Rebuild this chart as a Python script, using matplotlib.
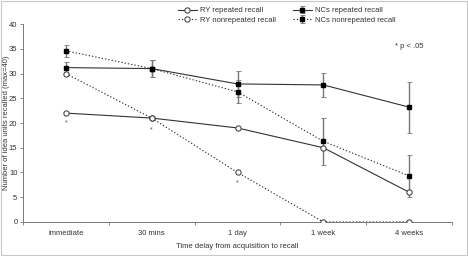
import matplotlib
matplotlib.use("Agg")
import matplotlib.pyplot as plt
from matplotlib.patches import Rectangle

plt.rcParams['font.family'] = ['Liberation Sans', 'DejaVu Sans']

delays = ['immediate', '30 mins', '1 day', '1 week', '4 weeks']
ry_rep = [22, 21, 19, 15, 6]
ry_nonrep = [30, 21, 10, 0, 0]
nc_rep = [31.2, 31.0, 27.9, 27.7, 23.2]
nc_rep_err = [1.2, 1.75, 2.7, 2.4, 5.15]
nc_nonrep = [34.6, 31.0, 26.3, 16.3, 9.3]
nc_nonrep_err = [1.2, 1.75, 2.3, 4.7, 4.3]
sig_y = [20.0, 18.6, 7.9]  # asterisk positions for first three delays

x = [i + 0.5 for i in range(len(delays))]
col = '#333333'
dots = (0, (1.2, 1.8))

fig = plt.figure(figsize=(4.68, 2.56), dpi=100)
fig.patches.append(Rectangle((0.002, 0.004), 0.996, 0.992, transform=fig.transFigure,
                             fill=False, edgecolor='#c8c8c8', linewidth=0.8))
ax = fig.add_axes([0.049, 0.133, 0.917, 0.773])

nr = ax.errorbar(x, nc_rep, yerr=nc_rep_err, color=col, ecolor='#777777', lw=0.8,
                 elinewidth=1.0, capsize=1.8, capthick=0.6, marker='s', ms=3.5,
                 mfc='black', mec='black', zorder=3)
nn = ax.errorbar(x, nc_nonrep, yerr=nc_nonrep_err, color=col, ecolor='#777777', lw=0.8,
                 ls=dots, elinewidth=1.0, capsize=1.8, capthick=0.6, marker='s',
                 ms=3.5, mfc='black', mec='black', zorder=3)
rr, = ax.plot(x, ry_rep, color=col, lw=0.8, marker='o', ms=3.8, mfc='white',
              mec=col, mew=0.7, zorder=4)
rn, = ax.plot(x, ry_nonrep, color=col, lw=0.8, ls=dots, marker='o', ms=3.8,
              mfc='white', mec=col, mew=0.7, zorder=4)

for xi, yi in zip(x, sig_y):
    ax.text(xi, yi, '*', fontsize=5, color='#555555', ha='center', va='center')

ax.text(4.5, 35.5, '* p < .05', fontsize=5.5, color='#333333', ha='center', va='center')

ax.set_xlim(0, 5)
ax.set_ylim(0, 40)
ax.set_yticks(range(0, 41, 5))
ax.set_xticks(x)
ax.set_xticklabels(delays)
ax.set_xticks(range(0, 6), minor=True)
ax.tick_params(axis='x', which='major', length=0, pad=6, labelsize=5.5, labelcolor='#333333')
ax.tick_params(axis='x', which='minor', length=2, width=0.6, color='#777777')
ax.tick_params(axis='y', length=2, width=0.6, color='#777777', labelsize=5.5,
               labelcolor='#333333', pad=2)
for s in ['top', 'right']:
    ax.spines[s].set_visible(False)
for s in ['left', 'bottom']:
    ax.spines[s].set_color('#777777')
    ax.spines[s].set_linewidth(0.7)

ax.set_xlabel('Time delay from acquisition to recall', fontsize=5.5, color='#333333', labelpad=4)
fig.text(0.013, 0.52, 'Number of idea units recalled (max=40)', fontsize=5.5,
         color='#333333', rotation=90, ha='center', va='center')

leg = fig.legend([rr, rn, nr, nn],
                 ['RY repeated recall', 'RY nonrepeated recall',
                  'NCs repeated recall', 'NCs nonrepeated recall'],
                 ncol=2, loc='upper center', bbox_to_anchor=(0.612, 1.0), frameon=False,
                 fontsize=5.5, handlelength=2.6, columnspacing=2.2, handletextpad=0.3,
                 labelspacing=0.3)
for t in leg.get_texts():
    t.set_color('#333333')

fig.savefig('out.png', dpi=100)
